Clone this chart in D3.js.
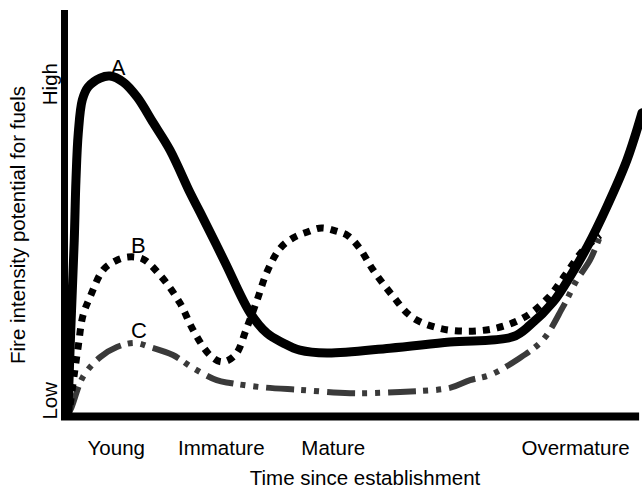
<!DOCTYPE html>
<html>
<head>
<meta charset="utf-8">
<script src="https://cdn.jsdelivr.net/npm/d3@7"></script>
<style>
  html, body { margin: 0; padding: 0; background: #fff; }
  svg { display: block; }
  text { font-family: "Liberation Sans", Arial, Helvetica, sans-serif; fill: #000; }
</style>
</head>
<body>
<svg id="chart" width="642" height="489"></svg>
<script>
// ---- data (x: time since establishment 0-100, y: fire intensity potential 0-100) ----
const stageLabels = ["Young", "Immature", "Mature", "Overmature"];
const stagePositions = [8.8, 27.0, 46.4, 88.4];

const levelLabels = ["Low", "High"];
const levelPositions = [3.5, 81.7];

const curveA = [
  [0.5,0.5],[1.0,21],[1.6,43],[1.9,58],[2.3,69.6],[3.0,77.8],[4.0,81],[6.1,83.2],
  [7.8,83.7],[10.1,82.2],[12.5,78.5],[15.3,72.1],[18.2,65.4],[21.7,54.8],[23.4,50.1],
  [27.7,37.8],[32.1,25.2],[35.0,20.2],[37.8,17.8],[40.7,16.0],[45.4,15.3],[56.3,16.5],
  [66.7,18.0],[77.6,19.3],[80.6,22.2],[84.6,27.9],[87.5,34.1],[90.5,41.5],[93.9,51.4],
  [97.4,63],[100,74.6]
];

const curveB = [
  [0.9,2.5],[1.6,10],[2.3,17],[3.1,24.5],[4.3,29],[6.6,35.8],[8.7,38],[10.9,39],
  [13.5,38.5],[16.5,34.5],[19.9,27.7],[22.2,21],[25.1,14.8],[27.2,13.1],[29.5,14.8],
  [31.5,21.5],[33.3,28.4],[35.0,35.3],[37.3,41.2],[39.5,43.7],[42,45.2],[44.5,46.2],
  [47,45.4],[49,44.3],[51,41.3],[53.4,35.8],[56.7,29.6],[60.1,24.2],[64.6,21.5],
  [69.7,20.7],[74.9,21.5],[79.7,24.2],[83.7,28.9],[86.7,34.6],[89.8,40.7],[92.7,44.4]
];

const curveC = [
  [0.5,0.7],[0.9,1.2],[3.1,9.4],[6.1,14.3],[9.0,16.8],[12.1,17.8],[14.7,16.8],
  [18.7,14.8],[22.2,11.6],[26.3,8.6],[28.6,7.9],[33.8,6.9],[40.7,6.2],[49.4,5.4],
  [58.1,5.7],[66.7,6.7],[70.2,8.6],[73.7,9.9],[78.3,13.6],[82.8,18.5],[86.3,26.7],
  [88.7,33.3],[91.0,38.3],[92.7,44]
];

const seriesNames = ["A", "B", "C"];
const seriesLabelPos = [[9.2, 84], [12.7, 40], [12.8, 19]];

// ---- chart ----
const svg = d3.select("#chart");
const x = d3.scaleLinear().domain([0, 100]).range([65, 642]);
const y = d3.scaleLinear().domain([0, 100]).range([415, 10]);

const line = d3.line()
  .x(d => x(d[0])).y(d => y(d[1]))
  .curve(d3.curveCatmullRom.alpha(0.5));

// curves
svg.append("path").datum(curveC)
  .attr("d", line).attr("fill", "none")
  .attr("stroke", "#3a3a3a").attr("stroke-width", 6)
  .attr("stroke-dasharray", "28 7 5 8 5 8");

svg.append("path").datum(curveB)
  .attr("d", line).attr("fill", "none")
  .attr("stroke", "#000").attr("stroke-width", 7)
  .attr("stroke-dasharray", "7 7");

svg.append("path").datum(curveA)
  .attr("d", line).attr("fill", "none")
  .attr("stroke", "#000").attr("stroke-width", 9)
  .attr("stroke-linecap", "round").attr("stroke-linejoin", "round");

// axes lines
svg.append("line")
  .attr("x1", x(0) - 0.5).attr("x2", x(0) - 0.5)
  .attr("y1", y(100)).attr("y2", y(0) + 5)
  .attr("stroke", "#000").attr("stroke-width", 7);
svg.append("line")
  .attr("x1", x(0) - 4).attr("x2", x(99.5))
  .attr("y1", y(0) + 1.5).attr("y2", y(0) + 1.5)
  .attr("stroke", "#000").attr("stroke-width", 8);

// x axis tick labels
const xAxis = d3.axisBottom(x)
  .tickValues(stagePositions)
  .tickFormat((d, i) => stageLabels[i])
  .tickSize(0).tickPadding(0);
const gx = svg.append("g").attr("transform", "translate(0,440)").call(xAxis);
gx.select(".domain").remove();
gx.selectAll("text")
  .attr("font-size", 20.5).attr("font-family", null)
  .attr("dy", "0.71em").attr("y", 0).attr("fill", "#000");

// y axis tick labels (rotated)
levelLabels.forEach((lab, i) => {
  svg.append("text")
    .attr("transform", `translate(57,${y(levelPositions[i])}) rotate(-90)`)
    .attr("text-anchor", "middle")
    .attr("font-size", 20.5)
    .text(lab);
});

// axis titles
svg.append("text")
  .attr("x", 365).attr("y", 485)
  .attr("text-anchor", "middle")
  .attr("font-size", 20.5)
  .text("Time since establishment");

svg.append("text")
  .attr("transform", "translate(25,225) rotate(-90)")
  .attr("text-anchor", "middle")
  .attr("font-size", 20.5)
  .text("Fire intensity potential for fuels");

// series labels
seriesNames.forEach((n, i) => {
  svg.append("text")
    .attr("x", x(seriesLabelPos[i][0])).attr("y", y(seriesLabelPos[i][1]))
    .attr("text-anchor", "middle")
    .attr("font-size", 22)
    .text(n);
});
</script>
</body>
</html>
